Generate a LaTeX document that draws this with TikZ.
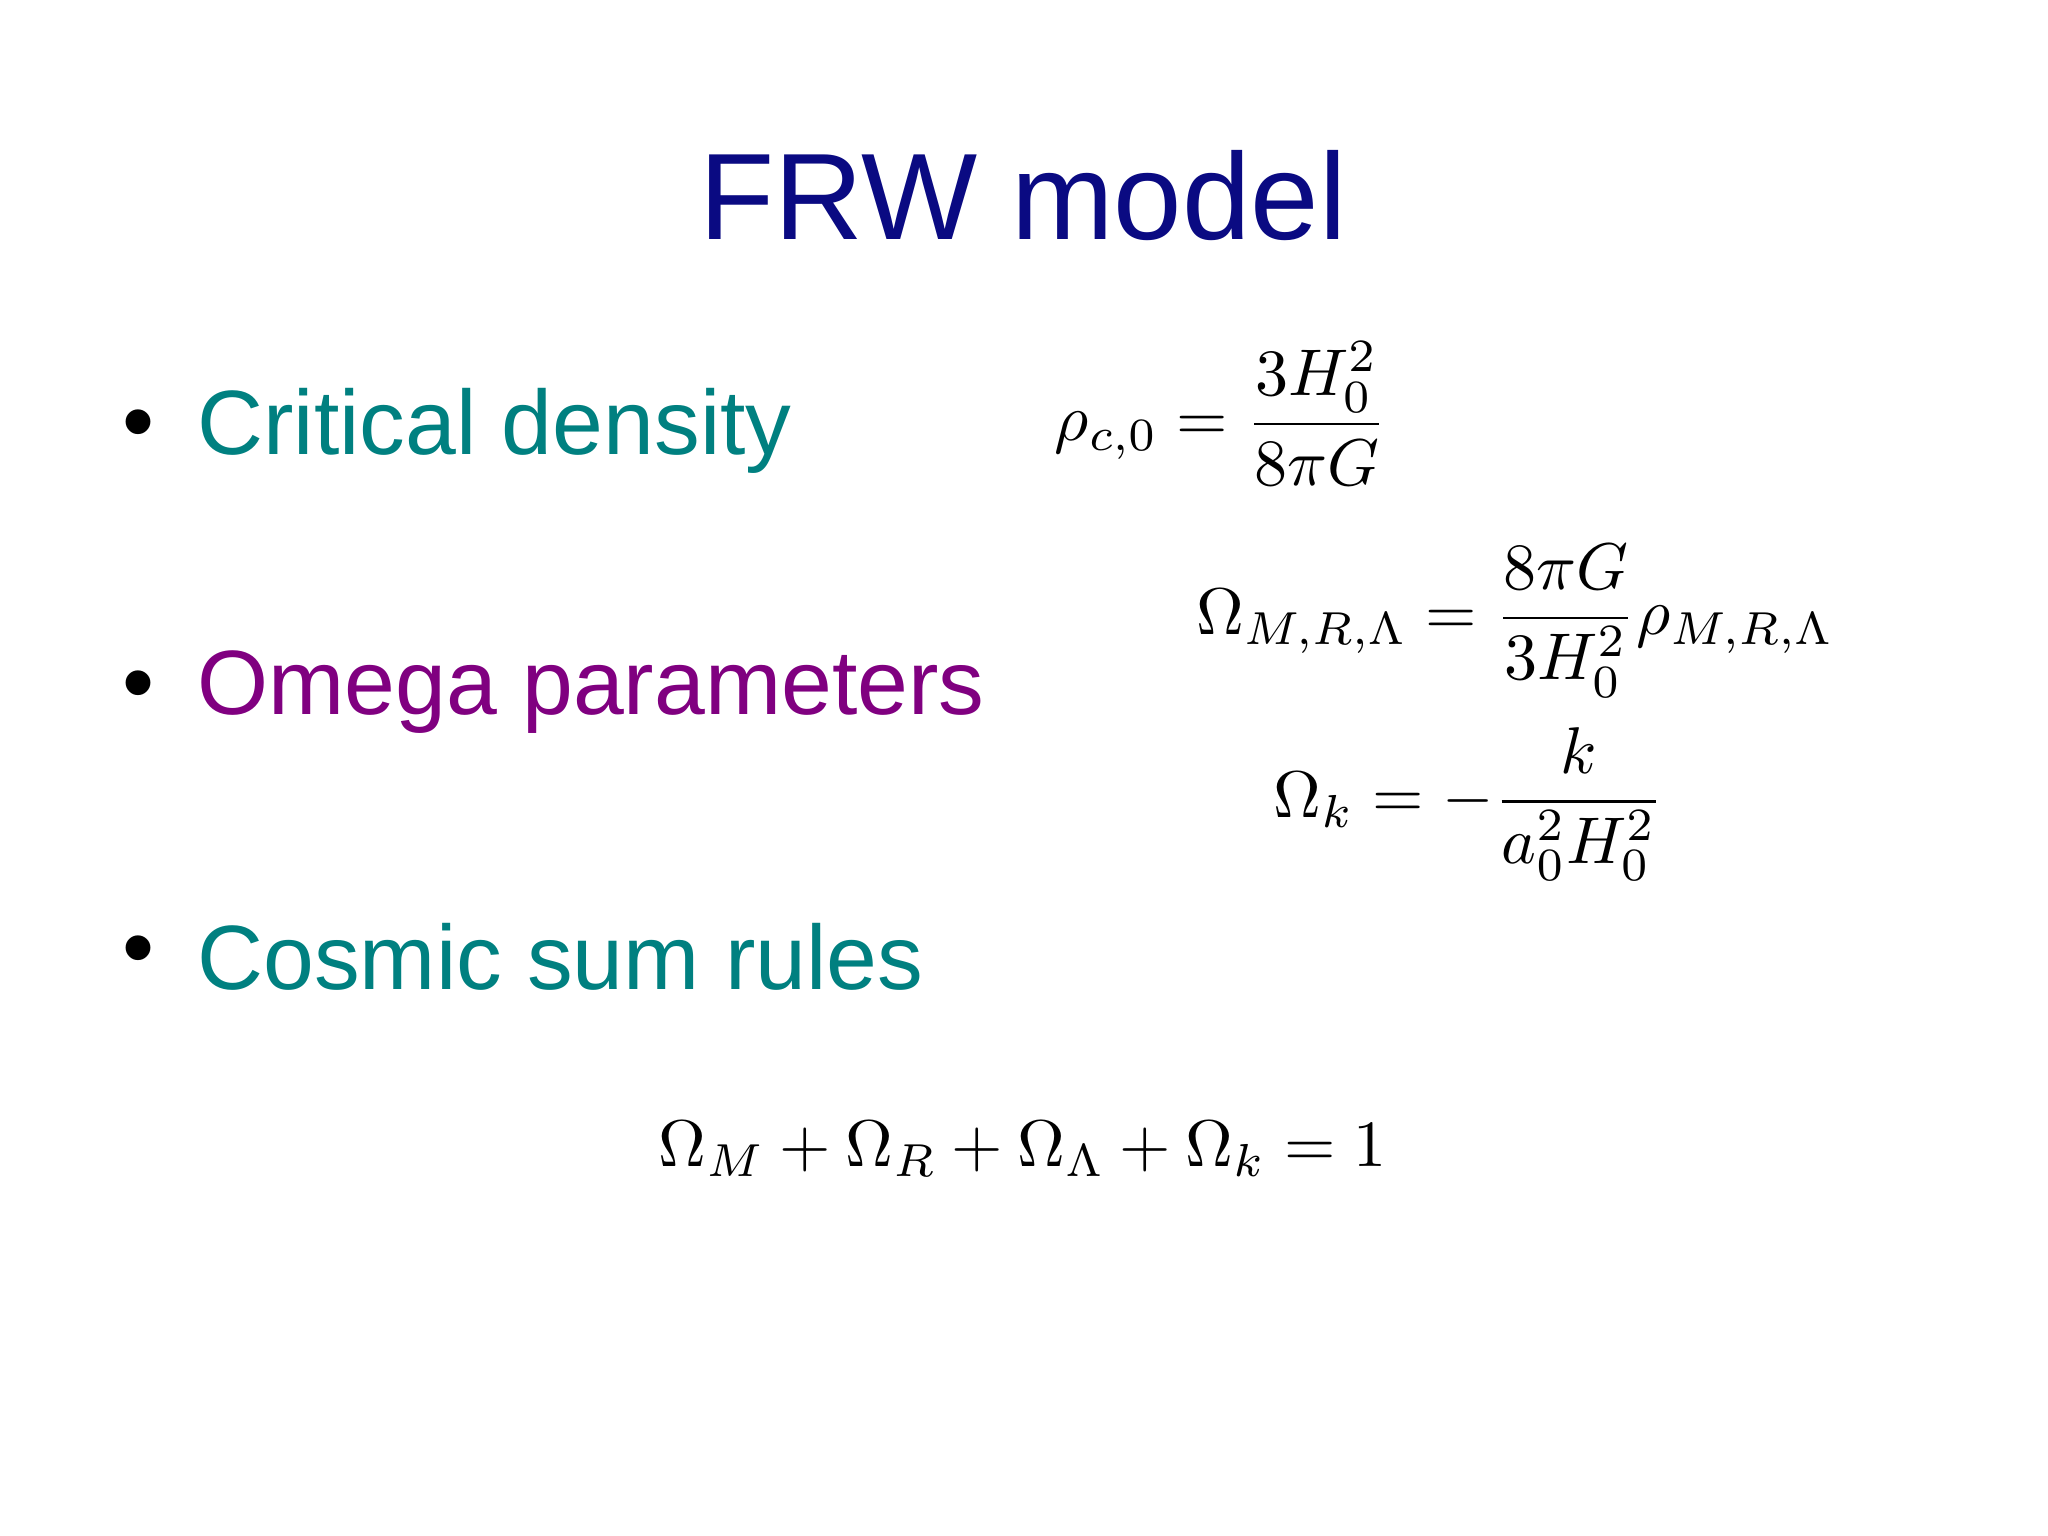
\documentclass[tikz,border=0pt]{standalone}
\usepackage{amsmath}
\usepackage{fontspec}
\setmainfont{Liberation Sans}
\usetikzlibrary{positioning}
\definecolor{titleblue}{RGB}{10,10,130}
\definecolor{tealtext}{RGB}{0,128,128}
\definecolor{purpletext}{RGB}{128,0,128}
\begin{document}
\begin{tikzpicture}[
    title/.style={font=\fontsize{35}{42}\selectfont, text=titleblue},
    item/.style={font=\fontsize{26}{31}\selectfont, anchor=west},
    dot/.style={font=\fontsize{26}{31}\selectfont, anchor=west},
    formula/.style={scale=1.88}
]
    \useasboundingbox (0,0) rectangle (20.48,15.36);
    \node[title] (head) at (10.23,13.4) {FRW model};

    \node[dot] (b1) at (1.1,11.05) {•};
    \node[item, text=tealtext] (crit) at (1.85,11.05) {Critical density};
    \node[dot] (b2) at (1.1,8.44) {•};
    \node[item, text=purpletext] (omega) at (1.85,8.44) {Omega parameters};
    \node[dot] (b3) at (1.1,5.79) {•};
    \node[item, text=tealtext] (sum) at (1.85,5.79) {Cosmic sum rules};

    \node[formula] (rhoc) at (12.21,11.22) {$\displaystyle \rho_{c,0}=\frac{3H_0^2}{8\pi G}$};
    \node[formula] (omegamr) at (15.15,9.15) {$\displaystyle \Omega_{M,R,\Lambda}=\frac{8\pi G}{3H_0^2}\rho_{M,R,\Lambda}$};
    \node[formula] (omegak) at (14.69,7.32) {$\displaystyle \Omega_{k}=-\frac{k}{a_0^2H_0^2}$};
    \node[formula] (sumrule) at (10.23,3.87) {$\Omega_M+\Omega_R+\Omega_\Lambda+\Omega_k=1$};
\end{tikzpicture}
\end{document}
